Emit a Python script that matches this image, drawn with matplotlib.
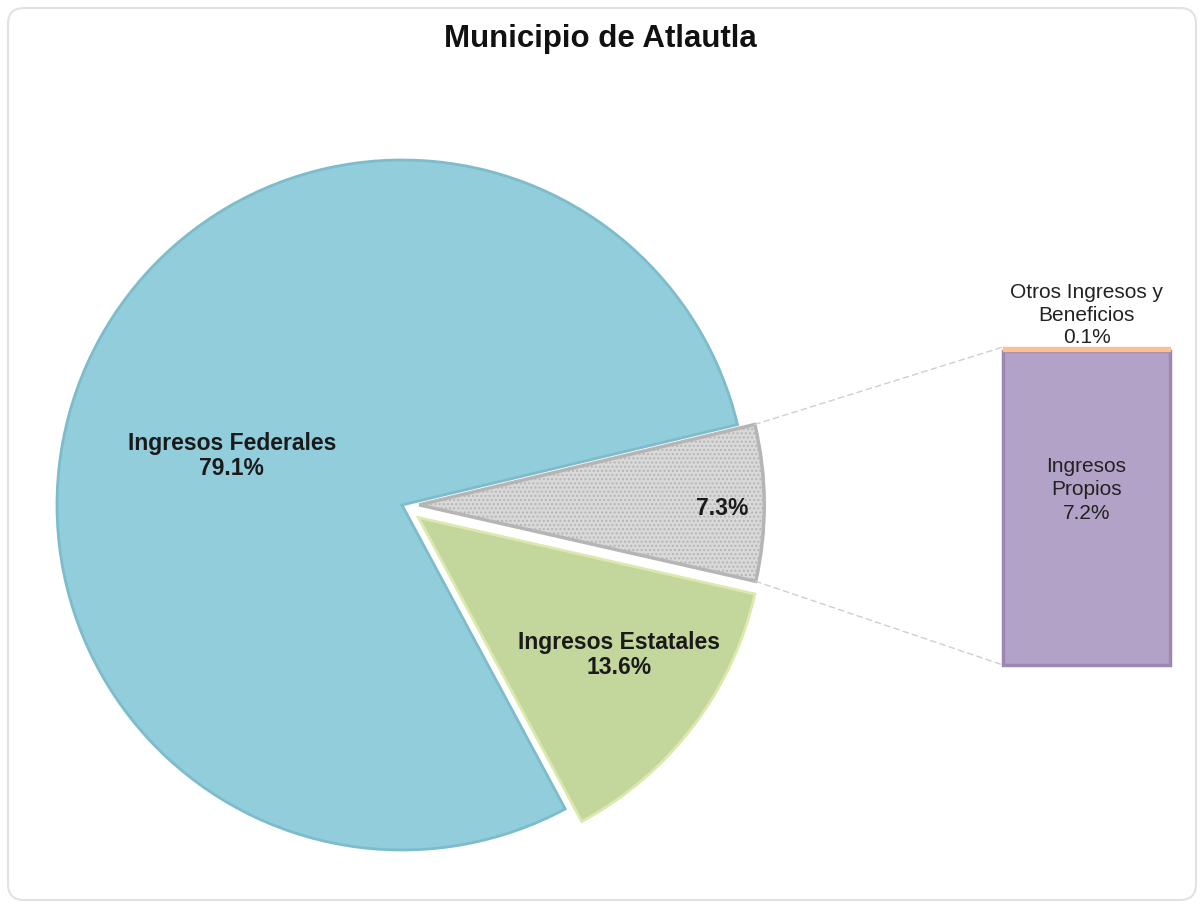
import numpy as np
import matplotlib
matplotlib.use("Agg")
from matplotlib import pyplot as plt
from matplotlib.patches import ConnectionPatch, FancyBboxPatch
from matplotlib.transforms import IdentityTransform

plt.rcParams["font.family"] = ["Liberation Sans", "DejaVu Sans"]

# data
title = "Municipio de Atlautla"
pie_labels = ["7.3%", "Ingresos Federales\n79.1%", "Ingresos Estatales\n13.6%"]
pie_values = [7.3, 79.1, 13.6]
pie_colors = ["#D9D9D9", "#92CDDC", "#C3D69B"]
pie_edges = ["#b5b5b5", "#7dbccb", "#dce9ad"]
explode = [0.05, 0.0, 0.06]

bar_labels = ["Ingresos\nPropios\n7.2%", "Otros Ingresos y\nBeneficios\n0.1%"]
bar_values = [7.2, 0.1]
bar_colors = ["#B3A2C7", "#FAC090"]

W, H = 1202, 907
fig = plt.figure(figsize=(W / 100, H / 100), dpi=100)

# outer rounded border
border = FancyBboxPatch((8, 7), 1188, 892, boxstyle="round,pad=0,rounding_size=16",
                        transform=IdentityTransform(), facecolor="none",
                        edgecolor="#e2e2e2", linewidth=1.5)
fig.add_artist(border)

fig.text(600 / W, 1 - 39 / H, title, ha="center", va="center",
         fontsize=22.5, fontweight="bold", color="#111111")

# pie axes: centre (402, 505) px, radius 345 px
r_px, cx, cy = 345, 402, 505
lim = 1.3
side = 2 * lim * r_px
ax = fig.add_axes([(cx - side / 2) / W, (H - cy - side / 2) / H, side / W, side / H])
wedges, _ = ax.pie(pie_values, colors=pie_colors, explode=explode,
                   startangle=-12.8, counterclock=True, radius=1,
                   wedgeprops=dict(linewidth=2))
for w, ec in zip(wedges, pie_edges):
    w.set_edgecolor(ec)
wedges[0].set_hatch("....")
wedges[0].set_linewidth(2.5)
ax.set_xlim(-lim, lim)
ax.set_ylim(-lim, lim)
ax.axis("off")

lab_kw = dict(ha="center", va="center", fontsize=16.5, fontweight="bold",
              color="#1a1a1a", linespacing=1.15)
ax.text(-0.493, 0.142, pie_labels[1], **lab_kw)
ax.text(0.628, -0.435, pie_labels[2], **lab_kw)
ax.text(0.928, -0.009, pie_labels[0], **lab_kw)

# bar of pie
bx0, bx1, by0, by1 = 1003, 1170, 347, 665
axb = fig.add_axes([bx0 / W, (H - by1) / H, (bx1 - bx0) / W, (by1 - by0) / H])
axb.bar([0], [bar_values[0]], width=1, color=bar_colors[0],
        edgecolor="#9a88b3", linewidth=2.5, clip_on=False)
axb.bar([0], [bar_values[1]], width=1, bottom=bar_values[0], color=bar_colors[1],
        edgecolor=bar_colors[1], linewidth=1, clip_on=False)
total = sum(bar_values)
axb.set_xlim(-0.5, 0.5)
axb.set_ylim(0, total)
axb.axis("off")

axb.text(0, 4.02, bar_labels[0], ha="center", va="center", fontsize=15,
         color="#222222", linespacing=1.28)
axb.annotate(bar_labels[1], (0, total), xytext=(0, 0), textcoords="offset points",
             ha="center", va="bottom", fontsize=15, color="#222222",
             linespacing=1.22, annotation_clip=False)

# connector lines from the gray wedge to the bar
g = wedges[0]
gx, gy = g.center
for ang, ybar in [(g.theta2, total), (g.theta1, 0)]:
    pa = (gx + g.r * np.cos(np.radians(ang)), gy + g.r * np.sin(np.radians(ang)))
    con = ConnectionPatch(xyA=pa, coordsA=ax.transData, xyB=(-0.5, ybar),
                          coordsB=axb.transData, color="#cfcfcf",
                          linestyle=(0, (4, 3)), linewidth=1)
    fig.add_artist(con)

fig.savefig("out.png", dpi=100, facecolor="white")
